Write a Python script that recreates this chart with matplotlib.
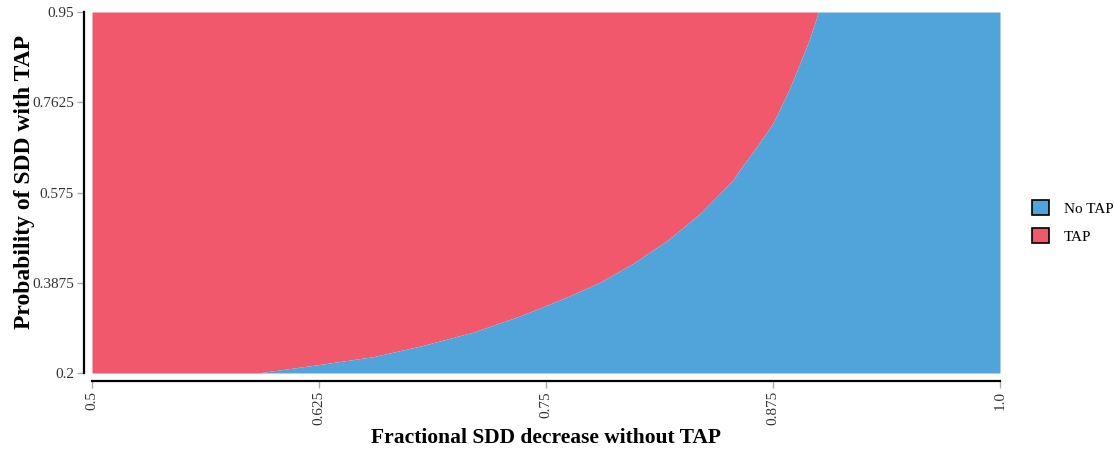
import numpy as np
from matplotlib import pyplot as plt
from matplotlib.patches import Patch

# boundary between the two decision regions
boundary_x = [0.5, 0.591, 0.624, 0.655, 0.682, 0.710, 0.736, 0.761, 0.780, 0.798,
              0.817, 0.835, 0.853, 0.857, 0.866, 0.875, 0.884, 0.890, 0.895, 0.900, 1.0]
boundary_y = [0.2, 0.200, 0.217, 0.234, 0.257, 0.285, 0.319, 0.357, 0.389, 0.428,
              0.476, 0.532, 0.601, 0.624, 0.670, 0.719, 0.790, 0.845, 0.893, 0.950, 0.95]

x_ticks = [0.5, 0.625, 0.75, 0.875, 1.0]
x_tick_labels = ['0.5', '0.625', '0.75', '0.875', '1.0']
y_ticks = [0.2, 0.3875, 0.575, 0.7625, 0.95]
y_tick_labels = ['0.2', '0.3875', '0.575', '0.7625', '0.95']

categories = ['No TAP', 'TAP']
colors = {'No TAP': '#50a4da', 'TAP': '#f2586c'}

plt.rcParams['font.family'] = ['Liberation Serif', 'DejaVu Serif']

fig = plt.figure(figsize=(11.14, 4.55), dpi=100)
ax = fig.add_axes([92 / 1114, 1 - 373 / 455, 908 / 1114, 361 / 455])

bx = np.array(boundary_x)
by = np.array(boundary_y)
ymin, ymax = y_ticks[0], y_ticks[-1]
ax.fill_between(bx, by, ymax, color=colors['TAP'], linewidth=0)
ax.fill_between(bx, ymin, by, color=colors['No TAP'], linewidth=0)

ax.set_xlim(x_ticks[0], x_ticks[-1])
ax.set_ylim(ymin, ymax)
ax.set_xticks(x_ticks, x_tick_labels)
ax.set_yticks(y_ticks, y_tick_labels)
ax.tick_params(axis='both', colors='#aaaaaa', labelcolor='#333333', labelsize=11,
               length=5, width=1, pad=2)
ax.tick_params(axis='x', labelrotation=90)

for side in ['top', 'right']:
    ax.spines[side].set_visible(False)
for side in ['left', 'bottom']:
    ax.spines[side].set_position(('outward', 6))
    ax.spines[side].set_linewidth(1.6)
    ax.spines[side].set_color('black')

ax.set_xlabel('Fractional SDD decrease without TAP', fontsize=15.5, fontweight='bold',
              va='center', ha='center')
ax.set_ylabel('Probability of SDD with TAP', fontsize=17, fontweight='bold',
              va='center', ha='center')
ax.xaxis.set_label_coords(0.5, (373 - 438) / 361)
ax.yaxis.set_label_coords((24 - 92) / 908, 0.53)

handles = [Patch(facecolor=colors[c], edgecolor='black', linewidth=1.2, label=c) for c in categories]
fig.legend(handles=handles, loc='center left', bbox_to_anchor=(1018 / 1114, 1 - 222 / 455),
           frameon=False, fontsize=11, handlelength=1.1, handleheight=1.1, labelspacing=0.85,
           handletextpad=1.0)

fig.savefig('out.png', dpi=100)
